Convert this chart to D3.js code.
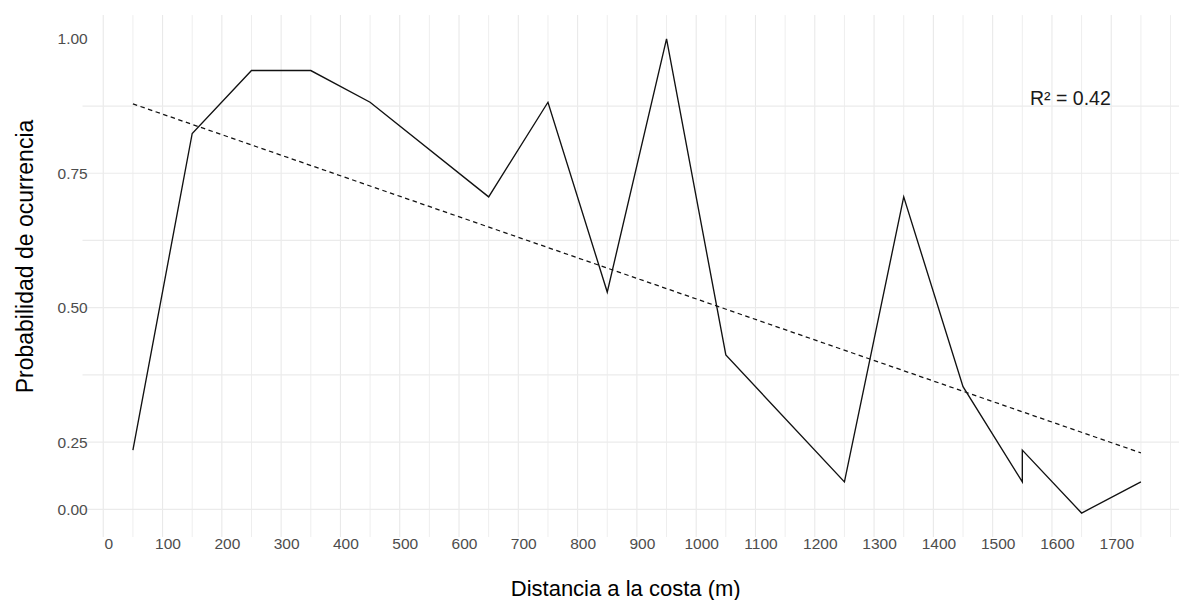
<!DOCTYPE html>
<html>
<head>
<meta charset="utf-8">
<script src="https://cdn.jsdelivr.net/npm/d3@7"></script>
<style>
  html, body { margin: 0; padding: 0; background: #ffffff; }
  svg { display: block; font-family: "Liberation Sans", Arial, sans-serif; }
</style>
</head>
<body>
<svg id="chart" width="1179" height="600"></svg>
<script>
// ---- data ----
const distances = [50, 150, 250, 350, 450, 650, 750, 850, 950, 1050, 1250, 1350, 1450, 1550, 1550, 1650, 1750];
const probabilities = [0.235, 0.824, 0.941, 0.941, 0.882, 0.706, 0.882, 0.529, 1.000, 0.412, 0.176, 0.706, 0.353, 0.176, 0.235, 0.118, 0.176];
const trendDistances = [50, 1750];
const trendValues = [0.879, 0.230];
const xTickValues = [0, 100, 200, 300, 400, 500, 600, 700, 800, 900, 1000, 1100, 1200, 1300, 1400, 1500, 1600, 1700];
const xMinorGrid = [50, 150, 250, 350, 450, 550, 650, 750, 850, 950, 1050, 1150, 1250, 1350, 1450, 1550, 1650, 1750, 1800];
const yTickValues = [1.0, 0.75, 0.5, 0.25, 0.125];
const yTickLabels = ["1.00", "0.75", "0.50", "0.25", "0.00"];
const yGridValues = [0.125, 0.25, 0.375, 0.5, 0.625, 0.75, 0.875];
const xTitle = "Distancia a la costa (m)";
const yTitle = "Probabilidad de ocurrencia";
const annotation = "R² = 0.42";
const annotationPos = [1563, 0.877];

// ---- layout ----
const svg = d3.select("#chart");
const panel = { left: 82.5, right: 1191.3, top: 15.1, bottom: 537 };

const x = d3.scaleLinear().domain([-35, 1835]).range([panel.left, panel.right]);
const y = d3.scaleLinear().domain([0.0735, 1.0441]).range([panel.bottom, panel.top]);

// grid
const grid = svg.append("g");
grid.selectAll("line.vmin").data(xMinorGrid).enter().append("line")
  .attr("x1", d => x(d)).attr("x2", d => x(d))
  .attr("y1", panel.top).attr("y2", panel.bottom)
  .attr("stroke", "#eeeeee").attr("stroke-width", 1);
grid.selectAll("line.vmaj").data(xTickValues).enter().append("line")
  .attr("x1", d => x(d)).attr("x2", d => x(d))
  .attr("y1", panel.top).attr("y2", panel.bottom)
  .attr("stroke", "#e9e9e9").attr("stroke-width", 1.1);
grid.selectAll("line.h").data(yGridValues).enter().append("line")
  .attr("x1", panel.left).attr("x2", panel.right)
  .attr("y1", d => y(d)).attr("y2", d => y(d))
  .attr("stroke", "#ebebeb").attr("stroke-width", 1.2);

// axes
const xAxis = d3.axisBottom(x).tickValues(xTickValues).tickSize(0).tickPadding(1)
  .tickFormat(d3.format("d"));
const gx = svg.append("g").attr("transform", `translate(0,${panel.bottom})`).call(xAxis);
gx.select(".domain").remove();
gx.selectAll("text").attr("font-size", 15.5).attr("fill", "#4d4d4d")
  .attr("font-family", "Liberation Sans, Arial, sans-serif").attr("dx", 5);

const yAxis = d3.axisLeft(y).tickValues(yTickValues).tickSize(0).tickPadding(2.3)
  .tickFormat((d, i) => yTickLabels[i]);
const gy = svg.append("g").attr("transform", `translate(90,0)`).call(yAxis);
gy.select(".domain").remove();
gy.selectAll("text").attr("font-size", 15.5).attr("fill", "#4d4d4d")
  .attr("font-family", "Liberation Sans, Arial, sans-serif");

// trend line (dashed)
const trend = trendDistances.map((d, i) => [d, trendValues[i]]);
svg.append("path").datum(trend)
  .attr("d", d3.line().x(d => x(d[0])).y(d => y(d[1])))
  .attr("fill", "none").attr("stroke", "#111").attr("stroke-width", 1.25)
  .attr("stroke-dasharray", "4.5,3.5");

// data line
const pts = distances.map((d, i) => [d, probabilities[i]]);
svg.append("path").datum(pts)
  .attr("d", d3.line().x(d => x(d[0])).y(d => y(d[1])))
  .attr("fill", "none").attr("stroke", "#111").attr("stroke-width", 1.35)
  .attr("stroke-linejoin", "miter");

// annotation
svg.append("text")
  .attr("x", x(annotationPos[0])).attr("y", y(annotationPos[1]))
  .attr("font-size", 19.5).attr("fill", "#1a1a1a")
  .text(annotation);

// titles
svg.append("text")
  .attr("x", 625.7).attr("y", 596)
  .attr("text-anchor", "middle").attr("font-size", 22).attr("fill", "#000")
  .text(xTitle);
svg.append("text")
  .attr("transform", "translate(32.5,256.5) rotate(-90)")
  .attr("text-anchor", "middle").attr("font-size", 23).attr("fill", "#000")
  .text(yTitle);
</script>
</body>
</html>
